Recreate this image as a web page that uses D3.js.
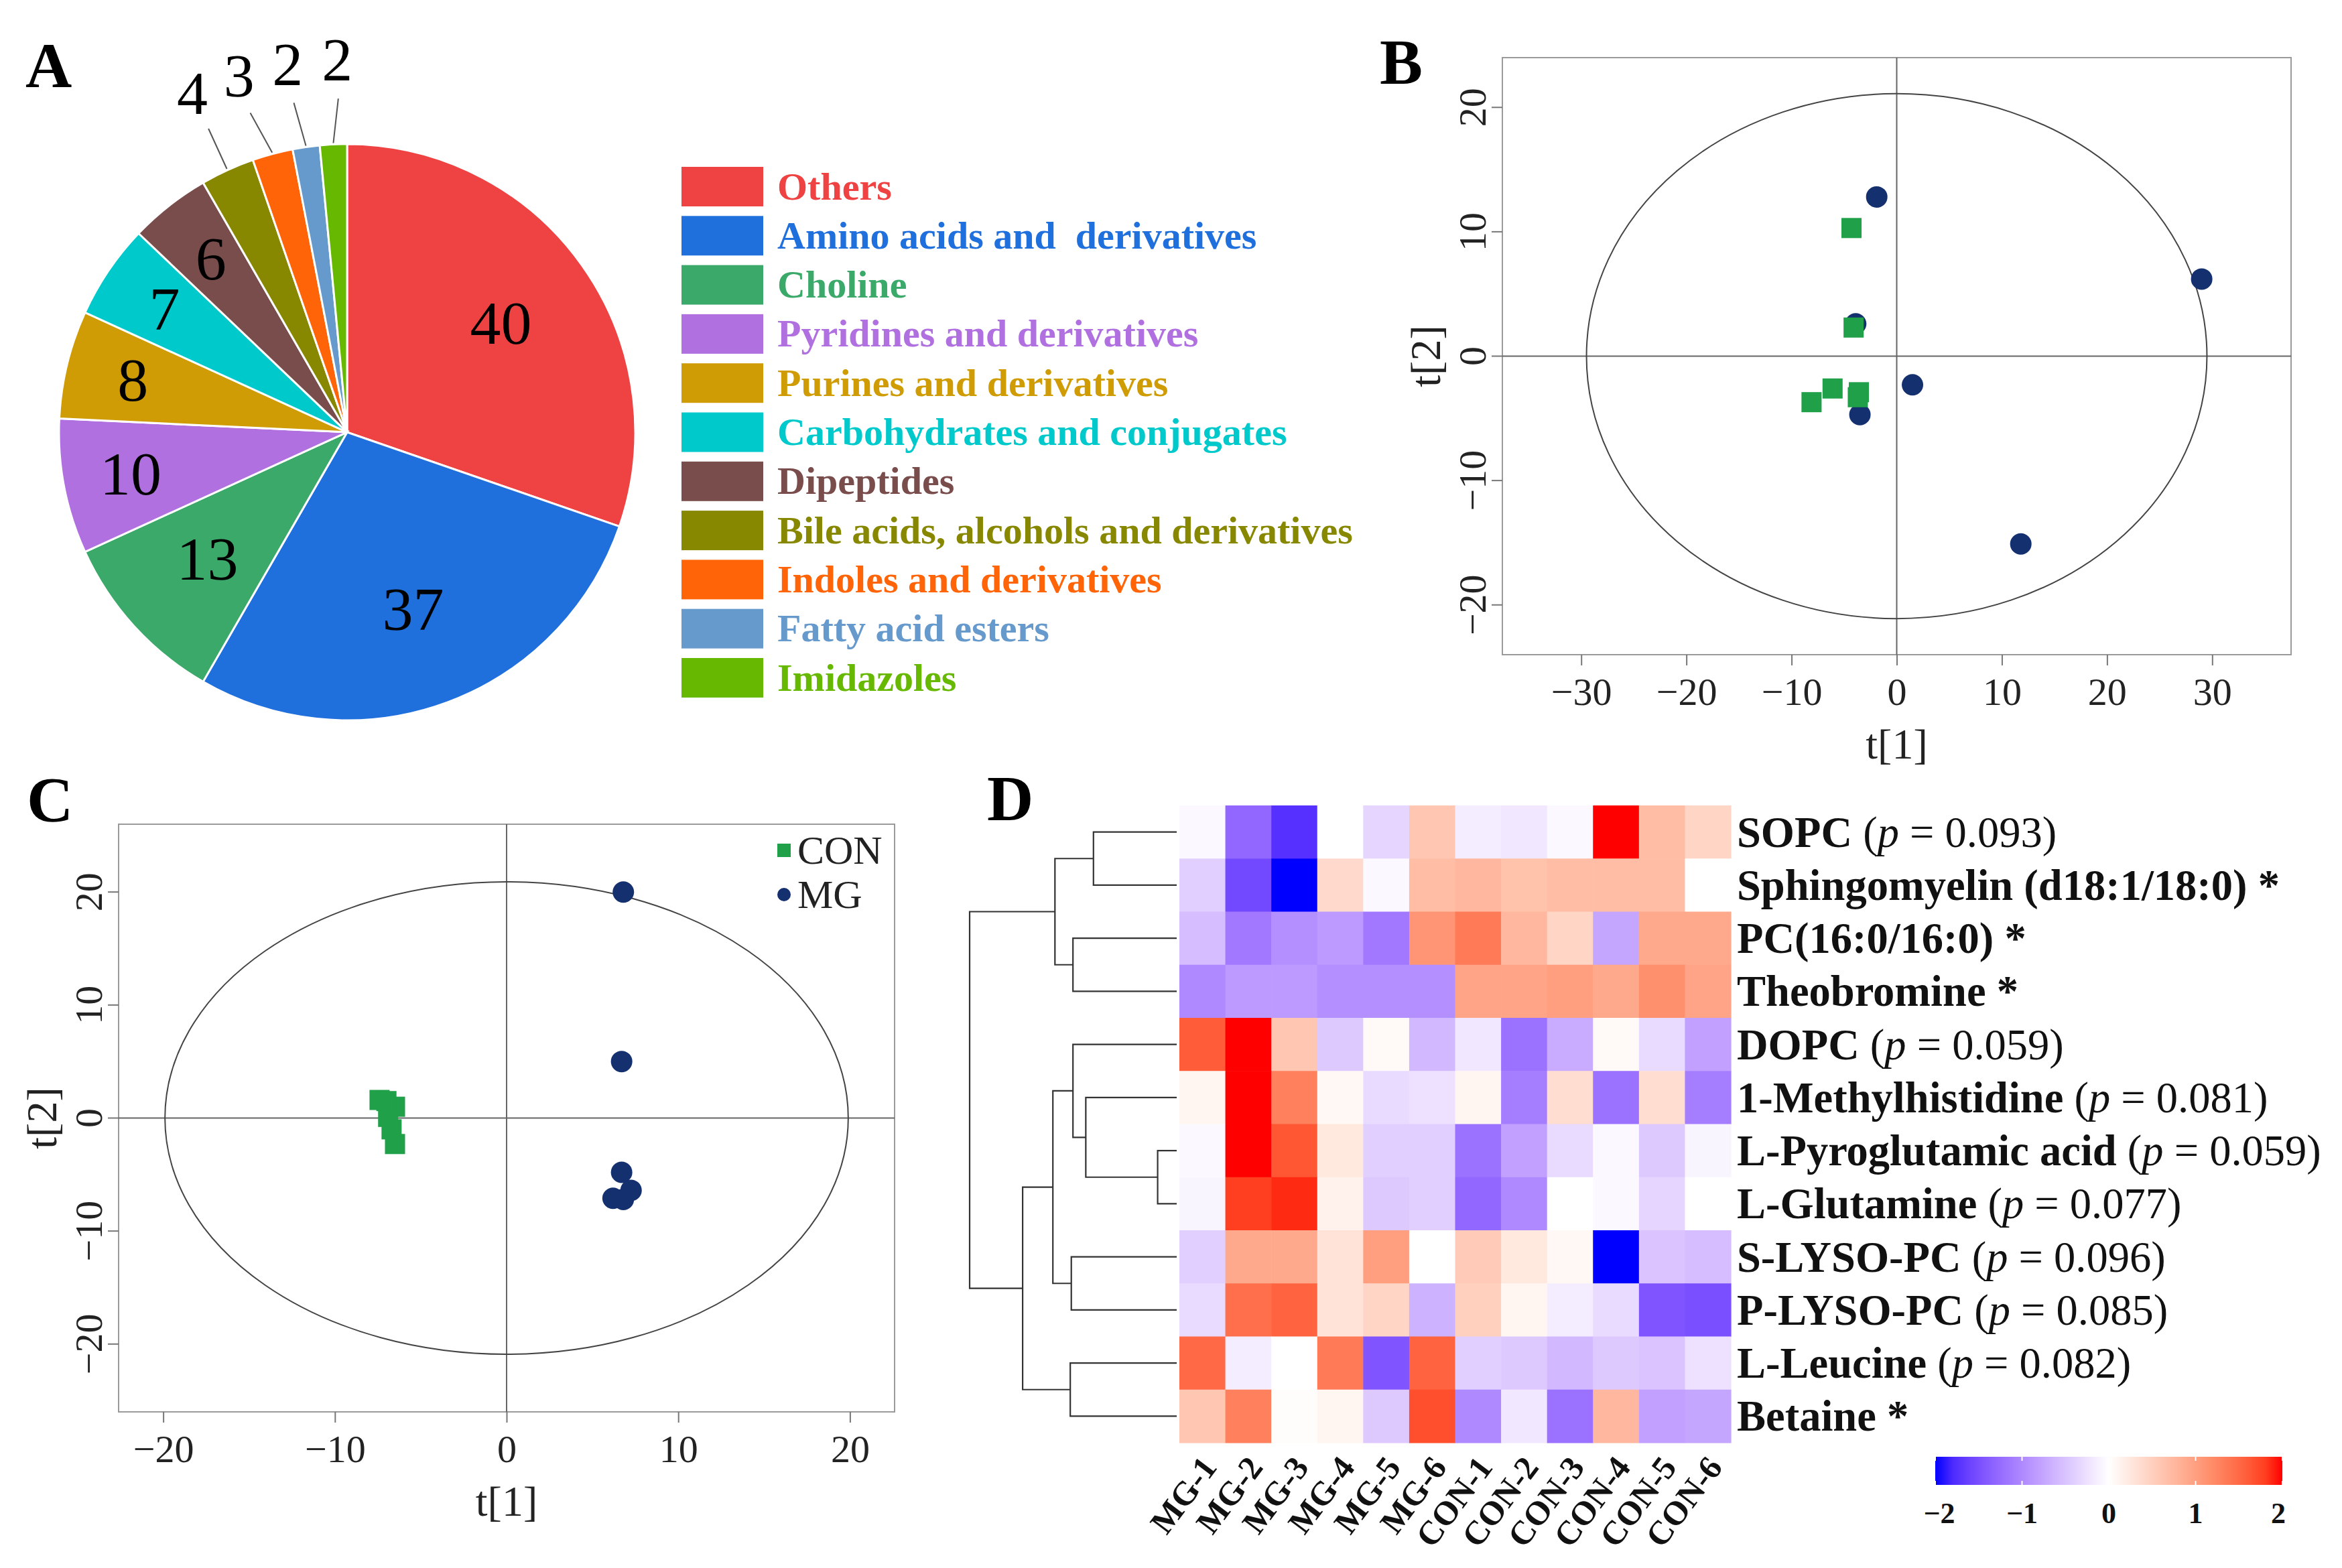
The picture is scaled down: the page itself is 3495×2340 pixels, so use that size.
<!DOCTYPE html>
<html>
<head>
<meta charset="utf-8">
<script src="https://cdn.jsdelivr.net/npm/d3@7"></script>
<style>
  body { margin: 0; background: #fff; }
  text { font-family: "Liberation Serif", "Times New Roman", serif; }
</style>
</head>
<body>
<svg id="fig" width="3495" height="2340"></svg>
<script>
// ---- A: metabolite classes
const classNames = ["Others", "Amino acids and  derivatives", "Choline", "Pyridines and derivatives",
  "Purines and derivatives", "Carbohydrates and conjugates", "Dipeptides",
  "Bile acids, alcohols and derivatives", "Indoles and derivatives", "Fatty acid esters", "Imidazoles"];
const classCounts = [40, 37, 13, 10, 8, 7, 6, 4, 3, 2, 2];
const classColors = ["#ef4343", "#1f6fdc", "#3aa96a", "#b070e0", "#cf9c05", "#00c9cc",
  "#7a4d4d", "#878700", "#ff6508", "#6699cc", "#66b800"];

// ---- B: score plot (all samples)
const bConT1 = [-4.3, -4.1, -6.1, -8.1, -3.7, -3.6];
const bConT2 = [10.3, 2.3, -2.6, -3.7, -3.3, -2.9];
const bMgT1 = [-1.9, 29.0, -3.9, 1.5, -3.5, 11.8];
const bMgT2 = [12.8, 6.2, 2.6, -2.3, -4.7, -15.1];
const bEllipse = [29.5, 21.1];

// ---- C: score plot (CON vs MG)
const cConT1 = [-7.4, -6.5, -6.9, -6.7, -6.5, -7.0];
const cConT2 = [1.6, 1.0, 0.1, -1.0, -2.3, 1.5];
const cMgT1 = [6.8, 6.7, 6.7, 6.2, 6.8, 7.25];
const cMgT2 = [20.0, 5.0, -4.8, -7.1, -7.2, -6.4];
const cEllipse = [19.9, 20.9];
const groupNames = ["CON", "MG"];

// ---- D: heatmap
const samples = ["MG-1", "MG-2", "MG-3", "MG-4", "MG-5", "MG-6", "CON-1", "CON-2", "CON-3", "CON-4", "CON-5", "CON-6"];
const metabolites = ["SOPC", "Sphingomyelin (d18:1/18:0)", "PC(16:0/16:0)", "Theobromine", "DOPC",
  "1-Methylhistidine", "L-Pyroglutamic acid", "L-Glutamine", "S-LYSO-PC", "P-LYSO-PC", "L-Leucine", "Betaine"];
const pValues = ["0.093", null, null, null, "0.059", "0.081", "0.059", "0.077", "0.096", "0.085", "0.082", null];
const zScores = [
  [-0.05, -1.3, -1.75, 0.0, -0.35, 0.6, -0.15, -0.2, -0.05, 2.0, 0.7, 0.45],
  [-0.4, -1.55, -2.0, 0.4, -0.05, 0.7, 0.75, 0.65, 0.7, 0.7, 0.7, 0.0],
  [-0.55, -1.15, -0.95, -0.85, -1.15, 1.1, 1.35, 0.75, 0.45, -0.75, 0.9, 0.9],
  [-1.0, -0.85, -0.85, -0.95, -0.95, -0.95, 0.95, 0.95, 1.0, 0.9, 1.15, 0.95],
  [1.6, 2.0, 0.6, -0.45, 0.05, -0.6, -0.2, -1.2, -0.7, 0.05, -0.3, -0.8],
  [0.1, 2.0, 1.3, 0.08, -0.3, -0.25, 0.1, -1.1, 0.35, -1.2, 0.35, -1.1],
  [-0.05, 2.0, 1.65, 0.25, -0.4, -0.4, -1.2, -0.8, -0.3, -0.05, -0.45, -0.08],
  [-0.08, 1.8, 1.9, 0.15, -0.45, -0.4, -1.3, -1.0, 0.0, -0.05, -0.35, 0.0],
  [-0.4, 0.9, 0.9, 0.3, 1.0, 0.0, 0.55, 0.25, 0.08, -2.0, -0.5, -0.55],
  [-0.3, 1.45, 1.55, 0.3, 0.45, -0.65, 0.5, 0.1, -0.15, -0.3, -1.45, -1.5],
  [1.5, -0.15, 0.0, 1.35, -1.45, 1.55, -0.4, -0.45, -0.6, -0.45, -0.5, -0.25],
  [0.6, 1.3, 0.02, 0.1, -0.45, 1.7, -1.0, -0.2, -1.2, 0.75, -0.8, -0.75]
];
// row clustering: [height, left, right], leaves are row indices
const rowTree = [10.0,
  [5.88, [4.02, 0, 1], [5.01, 2, 3]],
  [7.44,
    [5.98, [5.01, 4, [4.39, 5, [0.92, 6, 7]]], [5.09, 8, 9]],
    [5.14, 10, 11]]];
const legendTicks = [-2, -1, 0, 1, 2];

const svg = d3.select("#fig");

function panelLetter(t, x, y) {
  svg.append("text").attr("x", x).attr("y", y).text(t)
    .attr("font-size", 96).attr("font-weight", "bold");
}

// ================= A =================
const cx = 518, cy = 645, R = 430;
const gA = svg.append("g").attr("transform", `translate(${cx},${cy})`);
const arcs = d3.pie().sort(null).value(d => d)(classCounts);
const arc = d3.arc().innerRadius(0).outerRadius(R);

gA.selectAll("path").data(arcs).enter().append("path")
  .attr("d", arc)
  .attr("fill", (d, i) => classColors[i])
  .attr("stroke", "#fff").attr("stroke-width", 3);

const mid = d => (d.startAngle + d.endAngle) / 2;
const polar = (a, r) => [r * Math.sin(a), -r * Math.cos(a)];

gA.selectAll("text.inside").data(arcs.filter(d => d.index < 7)).enter().append("text")
  .attr("class", "inside")
  .attr("x", d => polar(mid(d), R * (d.value >= 13 ? 0.655 : 0.765))[0])
  .attr("y", d => polar(mid(d), R * (d.value >= 13 ? 0.655 : 0.765))[1])
  .attr("text-anchor", "middle").attr("dominant-baseline", "central")
  .attr("font-size", 92).text(d => d.value);

// small slices: leader lines to labels fanned out at equal angular steps
const outer = arcs.filter(d => d.index >= 7);
const fan = d => mid(outer[0]) + (d.index - outer[0].index) * 0.134;
gA.selectAll("line.lead").data(outer).enter().append("line")
  .attr("x1", d => polar(mid(d), R + 2)[0]).attr("y1", d => polar(mid(d), R + 2)[1])
  .attr("x2", d => polar(fan(d), R + 68)[0]).attr("y2", d => polar(fan(d), R + 68)[1])
  .attr("stroke", "#555").attr("stroke-width", 2);
gA.selectAll("text.outside").data(outer).enter().append("text")
  .attr("class", "outside")
  .attr("x", d => polar(fan(d), R + 126)[0])
  .attr("y", d => polar(fan(d), R + 126)[1])
  .attr("text-anchor", "middle").attr("dominant-baseline", "central")
  .attr("font-size", 92).text(d => d.value);

const legA = svg.append("g");
const legRow = d3.scaleLinear().domain([0, 1]).range([278, 351.3]);
legA.selectAll("rect").data(classNames).enter().append("rect")
  .attr("x", 1017).attr("y", (d, i) => legRow(i) - 29)
  .attr("width", 122).attr("height", 59)
  .attr("fill", (d, i) => classColors[i]);
legA.selectAll("text").data(classNames).enter().append("text")
  .attr("x", 1160).attr("y", (d, i) => legRow(i))
  .attr("dominant-baseline", "central")
  .attr("font-size", 58).attr("font-weight", "bold")
  .style("white-space", "pre")
  .attr("fill", (d, i) => classColors[i]).text(d => d);

panelLetter("A", 38, 130);

// ================= B & C =================
function scorePlot(o) {
  const x = d3.scaleLinear().domain(o.xDomain).range([o.left, o.right]);
  const y = d3.scaleLinear().domain(o.yDomain).range([o.bottom, o.top]);
  const g = svg.append("g");

  g.append("rect").attr("x", o.left).attr("y", o.top)
    .attr("width", o.right - o.left).attr("height", o.bottom - o.top)
    .attr("fill", "none").attr("stroke", "#9a9a9a").attr("stroke-width", 2);
  g.append("line").attr("x1", x(0)).attr("x2", x(0)).attr("y1", o.top).attr("y2", o.bottom)
    .attr("stroke", "#666").attr("stroke-width", 2);
  g.append("line").attr("x1", o.left).attr("x2", o.right).attr("y1", y(0)).attr("y2", y(0))
    .attr("stroke", "#666").attr("stroke-width", 2);
  g.append("ellipse").attr("cx", x(0)).attr("cy", y(0))
    .attr("rx", x(o.ellipse[0]) - x(0)).attr("ry", y(0) - y(o.ellipse[1]))
    .attr("fill", "none").attr("stroke", "#444").attr("stroke-width", 2);

  const xAxis = g.append("g").attr("transform", `translate(0,${o.bottom})`)
    .call(d3.axisBottom(x).tickValues(o.xTicks).tickSize(16).tickPadding(10).tickSizeOuter(0));
  const yAxis = g.append("g").attr("transform", `translate(${o.left},0)`)
    .call(d3.axisLeft(y).tickValues(o.yTicks).tickSize(16).tickPadding(10).tickSizeOuter(0));
  [xAxis, yAxis].forEach(a => {
    a.select(".domain").remove();
    a.selectAll("line").attr("stroke", "#777").attr("stroke-width", 2);
    a.selectAll("text").attr("font-size", 58).attr("font-family", "Liberation Serif")
      .attr("fill", "#222");
  });
  xAxis.selectAll("text").attr("dy", "0.85em");
  yAxis.selectAll("text")
    .attr("text-anchor", "middle").attr("dy", null).attr("x", null)
    .attr("transform", d => `translate(${-45},${y(d)}) rotate(-90)`)
    .attr("y", 0).attr("dominant-baseline", "central");
  yAxis.selectAll(".tick").attr("transform", null);
  yAxis.selectAll(".tick line").attr("y1", d => y(d)).attr("y2", d => y(d));

  g.append("text").attr("x", (o.left + o.right) / 2).attr("y", o.bottom + 133)
    .attr("text-anchor", "middle").attr("dominant-baseline", "central")
    .attr("font-size", 64).attr("fill", "#222").text("t[1]");
  g.append("text")
    .attr("transform", `translate(${o.left - 115},${(o.top + o.bottom) / 2}) rotate(-90)`)
    .attr("text-anchor", "middle").attr("dominant-baseline", "central")
    .attr("font-size", 64).attr("fill", "#222").text("t[2]");

  g.selectAll("circle.mg").data(d3.zip(o.mgT1, o.mgT2)).enter().append("circle")
    .attr("class", "mg").attr("cx", d => x(d[0])).attr("cy", d => y(d[1]))
    .attr("r", 16).attr("fill", "#14306f");
  g.selectAll("rect.con").data(d3.zip(o.conT1, o.conT2)).enter().append("rect")
    .attr("class", "con").attr("x", d => x(d[0]) - 15).attr("y", d => y(d[1]) - 15)
    .attr("width", 30).attr("height", 30).attr("fill", "#20a048");
  return { g, x, y };
}

scorePlot({
  left: 2242, right: 3419, top: 86, bottom: 977,
  xDomain: [-37.5, 37.5], yDomain: [-24, 24],
  xTicks: [-30, -20, -10, 0, 10, 20, 30], yTicks: [-20, -10, 0, 10, 20],
  ellipse: bEllipse, conT1: bConT1, conT2: bConT2, mgT1: bMgT1, mgT2: bMgT2
});
panelLetter("B", 2059, 125);

const pc = scorePlot({
  left: 177, right: 1335, top: 1230, bottom: 2107,
  xDomain: [-22.6, 22.6], yDomain: [-26, 26],
  xTicks: [-20, -10, 0, 10, 20], yTicks: [-20, -10, 0, 10, 20],
  ellipse: cEllipse, conT1: cConT1, conT2: cConT2, mgT1: cMgT1, mgT2: cMgT2
});
// legend of C
const legC = pc.g.append("g");
groupNames.forEach((name, i) => {
  const yy = 1269 + i * 66;
  if (name === "CON") {
    legC.append("rect").attr("x", 1160).attr("y", yy - 10).attr("width", 20).attr("height", 20)
      .attr("fill", "#20a048");
  } else {
    legC.append("circle").attr("cx", 1170).attr("cy", yy).attr("r", 10).attr("fill", "#14306f");
  }
  legC.append("text").attr("x", 1190).attr("y", yy).attr("dominant-baseline", "central")
    .attr("font-size", 60).attr("fill", "#222").text(name);
});
panelLetter("C", 40, 1226);

// ================= D =================
const hx = d3.scaleBand().domain(samples).range([1760, 2583]);
const hy = d3.scaleBand().domain(metabolites).range([1202, 2153]);
const heatColor = d3.scaleLinear().domain([-2, 0, 2])
  .range(["#0000ff", "#ffffff", "#ff0000"]).interpolate(d3.interpolateLab).clamp(true);

const cells = [];
metabolites.forEach((m, i) => samples.forEach((s, j) => cells.push({ m, s, v: zScores[i][j] })));
const gD = svg.append("g");
gD.selectAll("rect").data(cells).enter().append("rect")
  .attr("x", d => hx(d.s)).attr("y", d => hy(d.m))
  .attr("width", hx.bandwidth() + 0.6).attr("height", hy.bandwidth() + 0.6)
  .attr("fill", d => heatColor(d.v));

// dendrogram
const dx = d3.scaleLinear().domain([0, 10]).range([1756, 1447]);
const gTree = svg.append("g").attr("stroke", "#333").attr("stroke-width", 2.2).attr("fill", "none");
function drawNode(node) {
  if (typeof node === "number") return { y: hy(metabolites[node]) + hy.bandwidth() / 2, h: 0 };
  const a = drawNode(node[1]), b = drawNode(node[2]);
  const xh = dx(node[0]);
  gTree.append("path").attr("d",
    `M${dx(a.h)},${a.y}H${xh}V${b.y}H${dx(b.h)}`);
  return { y: (a.y + b.y) / 2, h: node[0] };
}
drawNode(rowTree);

// row labels
const rowLab = svg.append("g");
metabolites.forEach((m, i) => {
  const t = rowLab.append("text").attr("x", 2592).attr("y", hy(m) + hy.bandwidth() / 2)
    .attr("dominant-baseline", "central").attr("font-size", 64.5).attr("fill", "#111");
  t.append("tspan").attr("font-weight", "bold").text(m);
  if (pValues[i]) {
    t.append("tspan").text(" (");
    t.append("tspan").attr("font-style", "italic").text("p");
    t.append("tspan").text(" = " + pValues[i] + ")");
  } else {
    t.append("tspan").attr("font-weight", "bold").text(" *");
  }
});

// column labels
svg.append("g").selectAll("text").data(samples).enter().append("text")
  .attr("transform", d => `translate(${hx(d) + hx.bandwidth() / 2 + 10},${2180}) rotate(-53)`)
  .attr("text-anchor", "end").attr("dominant-baseline", "central")
  .attr("font-size", 50).attr("font-weight", "bold").attr("fill", "#111").text(d => d);

// color key
const kx = d3.scaleLinear().domain([-2, 2]).range([2888, 3406]);
const defs = svg.append("defs");
const grad = defs.append("linearGradient").attr("id", "key");
d3.range(0, 1.0001, 0.05).forEach(t => {
  grad.append("stop").attr("offset", t).attr("stop-color", heatColor(-2 + 4 * t));
});
svg.append("rect").attr("x", kx(-2)).attr("y", 2174).attr("width", kx(2) - kx(-2)).attr("height", 42)
  .attr("fill", "url(#key)");
const keyAxis = svg.append("g").selectAll("g").data(legendTicks).enter().append("g");
keyAxis.append("line").attr("x1", d => kx(d)).attr("x2", d => kx(d)).attr("y1", 2174).attr("y2", 2180)
  .attr("stroke", "#fff").attr("stroke-width", 2);
keyAxis.append("line").attr("x1", d => kx(d)).attr("x2", d => kx(d)).attr("y1", 2210).attr("y2", 2216)
  .attr("stroke", "#fff").attr("stroke-width", 2);
keyAxis.append("text").attr("x", d => kx(d) + (d === -2 ? 6 : d === 2 ? -6 : 0)).attr("y", 2258)
  .attr("text-anchor", "middle").attr("dominant-baseline", "central")
  .attr("font-size", 44).attr("font-weight", "bold").attr("fill", "#111")
  .text(d => d3.format("d")(d));

panelLetter("D", 1473, 1224);
</script>
</body>
</html>
